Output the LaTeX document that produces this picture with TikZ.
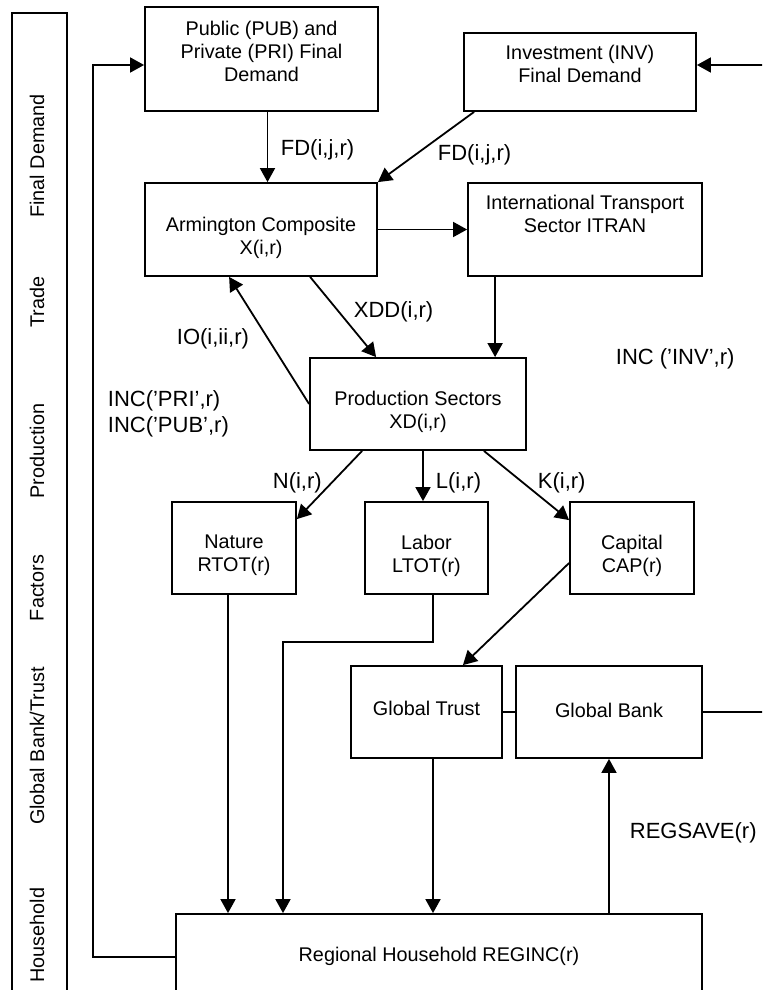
\documentclass[tikz,border=0pt]{standalone}
\usepackage{fontspec}
\setmainfont{Liberation Sans}
\usetikzlibrary{arrows.meta,fit}

\begin{document}
\begin{tikzpicture}[x=0.5pt, y=-0.5pt, >={Triangle[length=7pt,width=7.5pt]}, line width=0.9pt,
    every node/.style={font=\fontsize{9.9}{11.5}\selectfont},
    box/.style={draw, inner sep=0pt, fit={#1}},
    txt/.style={align=center, inner sep=0pt},
    lbl/.style={anchor=west, inner sep=0pt, font=\fontsize{11}{13}\selectfont},
    lane/.style={rotate=90, inner sep=0pt}]
    % 1. frame and lane titles
    \clip (0,0) rectangle (762,990);
    \draw (12,13) rectangle (67,1010);
    \node[lane] (l-fd) at (37,156) {Final Demand};
    \node[lane] (l-tr) at (37,302) {Trade};
    \node[lane] (l-pr) at (37,451) {Production};
    \node[lane] (l-fa) at (37,588) {Factors};
    \node[lane] (l-gb) at (37,746) {Global Bank/Trust};
    \node[lane] (l-hh) at (37,935) {Household};

    % 2. boxes
    \node[box={(145,7) (378,111)}] (pub) {};
    \node[txt] (pub-t) at (261.5,51) {Public (PUB) and\\Private (PRI) Final\\Demand};
    \node[box={(464,33) (696,111)}] (inv) {};
    \node[txt] (inv-t) at (580,64) {Investment (INV)\\Final Demand};
    \node[box={(145,183) (377,276)}] (arm) {};
    \node[txt] (arm-t) at (261,238) {Armington Composite\\X(i,r)};
    \node[box={(468,183) (702,276)}] (itran) {};
    \node[txt] (itran-t) at (585,213.5) {International Transport\\Sector ITRAN};
    \node[box={(310,358) (526,450)}] (prod) {};
    \node[txt] (prod-t) at (418,412) {Production Sectors\\XD(i,r)};
    \node[box={(172,502) (296,594)}] (nat) {};
    \node[txt] (nat-t) at (234,555.5) {Nature\\RTOT(r)};
    \node[box={(365,502) (488,594)}] (lab) {};
    \node[txt] (lab-t) at (426.5,555.5) {Labor\\LTOT(r)};
    \node[box={(570,502) (694,594)}] (cap) {};
    \node[txt] (cap-t) at (632,555.5) {Capital\\CAP(r)};
    \node[box={(351,666) (502,758)}] (trust) {};
    \node[txt] (trust-t) at (426.5,708) {Global Trust};
    \node[box={(516,666) (702,758)}] (bank) {};
    \node[txt] (bank-t) at (609,710) {Global Bank};
    \node[box={(176,914) (702,1000)}] (hh) {};
    \node[txt] (hh-t) at (439,956) {Regional Household REGINC(r)};

    % 3. flow labels
    \node[lbl] (fd1) at (280,150) {FD(i,j,r)};
    \node[lbl] (fd2) at (437,155) {FD(i,j,r)};
    \node[lbl] (xdd) at (353,312) {XDD(i,r)};
    \node[lbl] (io) at (176,339) {IO(i,ii,r)};
    \node[lbl, align=left] (inc) at (107,414) {INC(’PRI’,r)\\INC(’PUB’,r)};
    \node[lbl] (incinv) at (615,359) {INC (’INV’,r)};
    \node[lbl] (nl) at (272,483) {N(i,r)};
    \node[lbl] (ll) at (435,483) {L(i,r)};
    \node[lbl] (kl) at (537,483) {K(i,r)};
    \node[lbl] (rs) at (629,833) {REGSAVE(r)};

    % 4. connectors
    \coordinate (bend) at (283,642);
    \draw[->] ([xshift=3pt]pub.south) -- ([xshift=3pt]pub.south |- arm.north);
    \draw[->] ([xshift=5.5pt]inv.south west) -- (arm.north east);
    \draw[->] (arm.east) -- (itran.west);
    \draw[->] ([xshift=14pt]itran.south west) -- ([xshift=14pt]itran.south west |- prod.north);
    \draw[->] ([xshift=83pt]arm.south west) -- ([xshift=33.5pt]prod.north west);
    \draw[->] (prod.west) -- ([xshift=42.5pt]arm.south west);
    \draw[->] ([xshift=26.5pt]prod.south west) -- ([yshift=-9pt]nat.north east);
    \draw[->] ([xshift=2.5pt]prod.south) -- ([xshift=2.5pt]prod.south |- lab.north);
    \draw[->] ([xshift=-21.5pt]prod.south east) -- ([yshift=-9.5pt]cap.north west);
    \draw[->] ([yshift=-7.5pt]cap.west) -- ([xshift=-20pt]trust.north east);
    \draw (trust.east) -- (bank.west);
    \draw[->] ([xshift=-3pt]nat.south) -- ([xshift=-3pt]nat.south |- hh.north);
    \draw[->] ([xshift=3.25pt]lab.south) |- (bend) -- (bend |- hh.north);
    \draw[->] ([xshift=3.25pt]trust.south) -- ([xshift=3.25pt]trust.south |- hh.north);
    \draw[->] (bank.south |- hh.north) -- (bank.south);
    \draw[->] (hh.west) -| (93,500) |- ([yshift=-3pt]pub.west);
    \draw[->] (bank.east) -| (766,300) |- ([yshift=3.5pt]inv.east);
\end{tikzpicture}
\end{document}
